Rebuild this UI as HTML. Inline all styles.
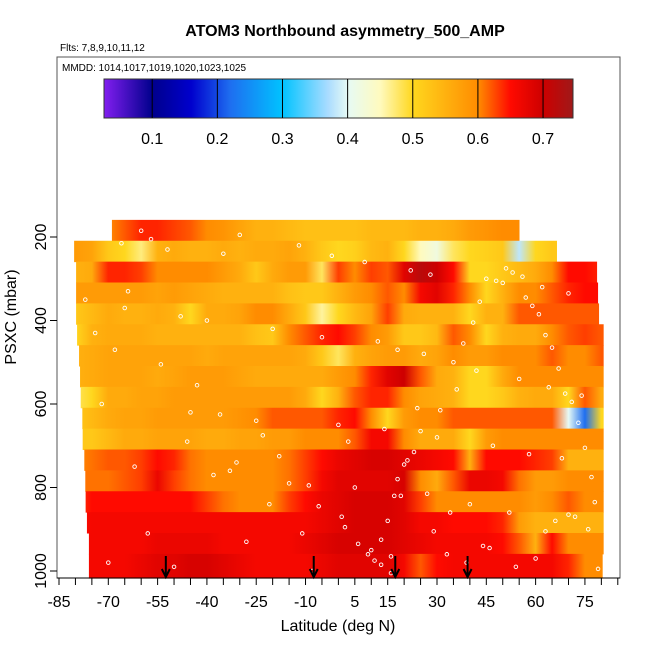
<!DOCTYPE html>
<html><head><meta charset="utf-8"><style>
body{margin:0;background:#fff}
svg{font-family:"Liberation Sans",Arial,sans-serif}
</style></head><body>
<svg id="c" width="650" height="650" xmlns="http://www.w3.org/2000/svg">
<text x="345" y="36" text-anchor="middle" font-size="16" font-weight="bold">ATOM3 Northbound asymmetry_500_AMP</text>
<text x="60" y="51" font-size="10">Flts: 7,8,9,10,11,12</text>
<text x="62" y="71" font-size="10">MMDD: 1014,1017,1019,1020,1023,1025</text>
<g id="heat"></g>
<g id="pts"></g>
<g id="arrows"></g>
<rect x="57" y="57" width="563" height="521" fill="none" stroke="#555" stroke-width="1"/>
<g id="cbar"></g>
<g id="xaxis"></g>
<g id="yaxis"></g>
<text x="338" y="631" text-anchor="middle" font-size="16">Latitude (deg N)</text>
<text transform="translate(16,317) rotate(-90)" text-anchor="middle" font-size="16">PSXC (mbar)</text>
</svg>
<script>
const latNodes = [-80,-75,-70,-65,-60,-55,-50,-45,-40,-35,-30,-25,-20,-15,-10,-5,0,5,10,15,20,25,30,35,40,45,50,55,60,65,70,75,80];
const rowTopP = [159,209,259,309,359,409,459,509,559,609,659,709,759,809,859,909,959];
const rowLatMin = [-68.9,-80.4,-79.8,-79.8,-79.8,-79.5,-78.9,-78.6,-78.4,-77.9,-77.8,-77.3,-77,-76.9,-76.5,-75.9,-75.9];
const rowLatMax = [55.1,66.5,78.7,79,79.3,80.7,80.7,80.7,80.7,80.7,80.7,80.7,80.7,80.7,80.7,80.7,80.4];
const rowValues = [
[.6,.6,.6,.62,.64,.64,.63,.62,.6,.59,.57,.55,.55,.54,.53,.53,.53,.53,.54,.54,.54,.55,.55,.56,.58,.59,.6,.6,.6,.6,.6,.6,.6],
[.58,.57,.52,.5,.47,.55,.56,.55,.55,.56,.55,.56,.56,.57,.55,.52,.5,.51,.54,.55,.5,.45,.42,.48,.5,.51,.52,.38,.5,.52,.52,.52,.52],
[.55,.56,.64,.64,.63,.6,.6,.6,.6,.58,.56,.52,.56,.58,.58,.48,.63,.6,.63,.62,.68,.72,.7,.65,.5,.5,.52,.54,.56,.6,.65,.65,.64],
[.58,.58,.58,.58,.58,.57,.58,.57,.56,.55,.55,.55,.55,.53,.52,.52,.55,.58,.6,.62,.6,.66,.68,.64,.6,.5,.55,.6,.6,.62,.64,.65,.65],
[.52,.54,.56,.55,.55,.56,.55,.5,.56,.56,.57,.6,.6,.56,.52,.46,.5,.54,.57,.63,.56,.55,.55,.55,.5,.55,.55,.62,.62,.62,.62,.62,.62],
[.5,.55,.56,.56,.56,.55,.55,.55,.55,.55,.55,.53,.52,.6,.62,.64,.65,.63,.6,.58,.52,.52,.54,.62,.6,.5,.55,.56,.56,.6,.62,.63,.62],
[.55,.56,.57,.57,.57,.57,.57,.57,.56,.57,.57,.57,.57,.57,.56,.52,.48,.55,.57,.58,.58,.56,.57,.6,.58,.58,.6,.6,.6,.62,.6,.6,.62],
[.55,.56,.57,.57,.57,.56,.57,.58,.58,.58,.57,.56,.56,.56,.56,.56,.58,.6,.64,.68,.7,.62,.56,.55,.5,.5,.56,.6,.6,.6,.6,.6,.6],
[.48,.5,.56,.56,.57,.57,.58,.58,.58,.58,.58,.58,.58,.58,.56,.5,.55,.62,.64,.64,.6,.57,.56,.55,.5,.5,.52,.55,.56,.56,.5,.62,.56],
[.52,.54,.56,.57,.57,.58,.58,.58,.58,.58,.59,.6,.62,.62,.62,.62,.64,.65,.6,.5,.58,.6,.6,.62,.62,.62,.62,.62,.62,.62,.4,.22,.5],
[.52,.52,.54,.56,.56,.57,.57,.57,.56,.56,.57,.57,.58,.58,.6,.6,.6,.62,.66,.66,.6,.56,.56,.56,.5,.58,.6,.6,.6,.6,.6,.6,.6],
[.6,.61,.62,.62,.63,.65,.64,.61,.6,.6,.6,.6,.6,.61,.63,.65,.67,.68,.69,.69,.68,.67,.66,.65,.55,.65,.65,.65,.64,.63,.55,.55,.55],
[.61,.61,.61,.62,.63,.67,.63,.61,.6,.6,.6,.6,.6,.61,.63,.66,.68,.68,.68,.68,.69,.6,.56,.62,.67,.67,.66,.61,.58,.58,.6,.6,.6],
[.63,.65,.65,.65,.65,.65,.65,.65,.63,.61,.6,.6,.6,.63,.65,.67,.68,.69,.69,.69,.68,.63,.6,.6,.6,.6,.6,.6,.58,.6,.62,.6,.6],
[.65,.66,.66,.66,.66,.66,.66,.66,.66,.66,.66,.66,.66,.66,.66,.67,.68,.69,.69,.69,.68,.66,.66,.65,.65,.65,.64,.58,.55,.55,.55,.55,.55],
[.66,.66,.66,.66,.66,.67,.67,.67,.67,.66,.66,.66,.66,.66,.67,.68,.69,.69,.69,.69,.68,.67,.66,.66,.66,.66,.65,.62,.55,.65,.6,.6,.6],
[.66,.66,.66,.66,.67,.68,.68,.69,.69,.68,.67,.66,.66,.66,.66,.67,.68,.68,.68,.68,.66,.62,.65,.66,.66,.66,.66,.66,.66,.66,.64,.6,.6]
];
const cbarTicks = [0.1,0.2,0.3,0.4,0.5,0.6,0.7];
const xTickLabels = [-85,-70,-55,-40,-25,-10,5,15,30,45,60,75];
const yTickLabels = [200,400,600,800,1000];
const arrowLats = [-52.5,-7.5,17.3,39.3];
const ptLat = [-60,-57,-52,-35,-30,-12,-2,8,22,28,45,50,62,70,-77,-65,-48,-40,-20,-5,12,18,26,35,42,55,64,74,-72,-45,-25,0,14,30,47,58,68,-62,-38,-15,5,19,40,52,66,76,-58,-28,10,33,60,-70,-50,-8,16,44,72,-33,3,24,
 -66,-64,-54,-43,-36,-23,-18,-9,-6,2,6,11,13,15,17,20,23,25,29,31,36,38,41,43,48,51,53,56,57,59,61,63,65,67,69,71,73,75,77,78,-74,-68,-46,-31,-21,-11,1,9,13,16,18,21,27,34,39,46,54,63,70,79];
const ptP = [185,205,230,240,195,220,245,260,280,290,300,310,320,335,350,370,390,400,420,440,450,470,480,500,520,540,560,580,600,620,640,650,660,680,700,720,730,750,770,790,800,820,840,860,880,900,910,930,950,960,970,980,990,1000,1005,940,870,760,690,610,
 215,330,505,555,625,675,725,795,845,895,935,975,985,880,820,745,715,665,905,615,565,455,405,355,305,275,285,295,345,365,385,435,465,515,575,595,645,705,775,835,430,470,690,740,840,910,870,960,925,965,780,735,815,860,980,945,990,905,865,995];
const cStops=[[0.026,[130,30,240]],[0.1,[0,0,140]],[0.16,[0,0,205]],[0.22,[30,110,240]],[0.3,[0,195,255]],[0.37,[170,220,255]],[0.4,[230,250,245]],[0.45,[255,250,190]],[0.5,[255,215,30]],[0.6,[255,140,0]],[0.65,[255,10,0]],[0.7,[205,0,0]],[0.746,[160,25,25]]];
function col(v){
  if(v<=cStops[0][0]) return `rgb(${cStops[0][1]})`;
  for(let i=1;i<cStops.length;i++){ if(v<=cStops[i][0]){const a=cStops[i-1],b=cStops[i],t=(v-a[0])/(b[0]-a[0]);
    return 'rgb('+a[1].map((x,j)=>Math.round(x+(b[1][j]-x)*t)).join(',')+')';}}
  return `rgb(${cStops[cStops.length-1][1]})`;
}
const X=lat=>59+(lat+85)*3.287;
const Y=p=>237+(p-200)*0.4175;
const CB=v=>104+(v-0.026)*651.4;
const NS='http://www.w3.org/2000/svg';
function mk(t,a,parent){const e=document.createElementNS(NS,t);for(const k in a)e.setAttribute(k,a[k]);parent.appendChild(e);return e;}
const svg=document.getElementById('c');
const defs=mk('defs',{},svg);
const heat=document.getElementById('heat');
rowValues.forEach((vals,r)=>{
  const g=mk('linearGradient',{id:'g'+r,gradientUnits:'userSpaceOnUse',x1:X(latNodes[0]),x2:X(latNodes[latNodes.length-1]),y1:0,y2:0},defs);
  vals.forEach((v,i)=>{mk('stop',{offset:(i/(latNodes.length-1)).toFixed(4),'stop-color':col(v)},g);});
  const x0=X(rowLatMin[r]),x1=X(rowLatMax[r]);
  const y0=Y(rowTopP[r]),y1=Y(r+1<rowTopP.length?rowTopP[r+1]:rowTopP[r]+58);
  const rc=mk('rect',{x:x0,y:y0,width:x1-x0,height:y1-y0+0.5,fill:'url(#g'+r+')'},heat);
  
  
});
const pts=document.getElementById('pts');
ptLat.forEach((la,i)=>{
  const c=mk('circle',{cx:X(la),cy:Y(ptP[i]),r:1.8,fill:'none',stroke:'#fff','stroke-width':0.9},pts);
  
  
});
const ar=document.getElementById('arrows');
arrowLats.forEach(la=>{
  const x=X(la);
  const g=mk('g',{},ar);
  
  
  mk('line',{x1:x,y1:556,x2:x,y2:576,stroke:'#000','stroke-width':2},g);
  mk('path',{d:`M${x-4} ${569} L${x} ${577} L${x+4} ${569}`,fill:'none',stroke:'#000','stroke-width':2},g);
});
const cb=document.getElementById('cbar');
const cg=mk('linearGradient',{id:'cbg',gradientUnits:'userSpaceOnUse',x1:104,x2:573,y1:0,y2:0},defs);
cStops.forEach(s=>{mk('stop',{offset:((CB(s[0])-104)/469).toFixed(4),'stop-color':`rgb(${s[1]})`},cg);});
const cr=mk('rect',{x:104,y:79,width:469,height:39,fill:'url(#cbg)',stroke:'#333','stroke-width':1},cb);


cbarTicks.forEach(v=>{
  const x=CB(v);
  mk('line',{x1:x,y1:79,x2:x,y2:118,stroke:'#000','stroke-width':1},cb);
  const t=mk('text',{x:x,y:144,'text-anchor':'middle','font-size':16},cb);
  t.textContent=v.toFixed(1);
  
  
});
const xa=document.getElementById('xaxis');
for(let la=-85;la<=85;la+=5){const x=X(la);mk('line',{x1:x,y1:578,x2:x,y2:585,stroke:'#000'},xa);}
mk('line',{x1:57,y1:578,x2:620,y2:578,stroke:'#000'},xa);
xTickLabels.forEach(v=>{
  const t=mk('text',{x:X(v),y:607,'text-anchor':'middle','font-size':16},xa);
  t.textContent=v;
  
  
});
const ya=document.getElementById('yaxis');
yTickLabels.forEach(v=>{
  const y=Y(v);
  mk('line',{x1:50,y1:y,x2:57,y2:y,stroke:'#000'},ya);
  const t=mk('text',{'text-anchor':'middle','font-size':16,transform:`translate(46,${y}) rotate(-90)`},ya);
  t.textContent=v;
  
  
});
</script>
</body></html>
